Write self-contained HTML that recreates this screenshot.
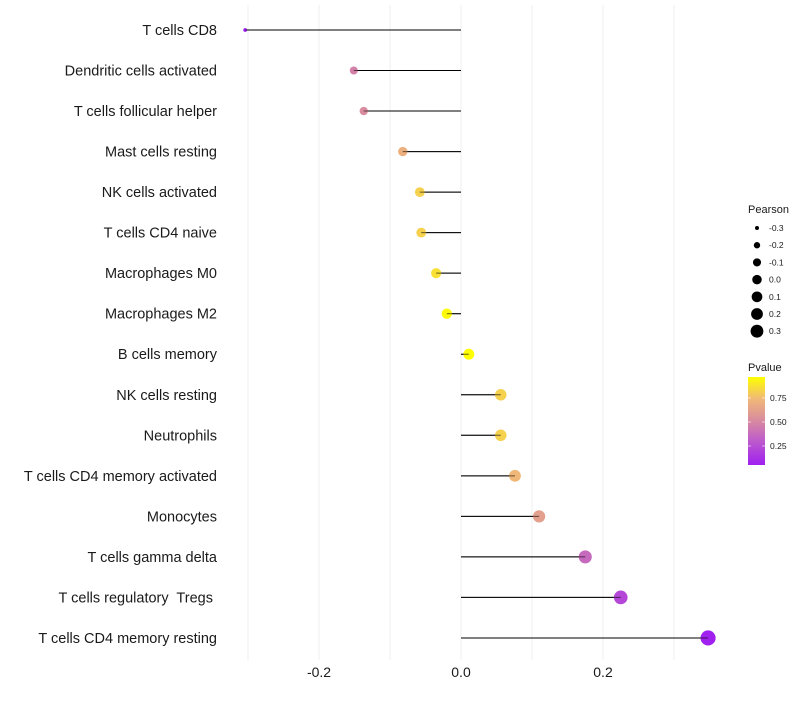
<!DOCTYPE html>
<html><head><meta charset="utf-8"><style>
body{margin:0;background:#fff;font-family:"Liberation Sans",sans-serif;}
text{white-space:pre;}
</style></head><body>
<svg id="c" width="800" height="700" xmlns="http://www.w3.org/2000/svg">
<defs><linearGradient id="pg" x1="0" y1="1" x2="0" y2="0">
<stop offset="0" stop-color="#A020F0"/><stop offset="0.3" stop-color="#C060C8"/><stop offset="0.5" stop-color="#D88AA0"/><stop offset="0.75" stop-color="#F0B878"/><stop offset="1" stop-color="#FFFF00"/>
</linearGradient></defs>
<g id="grid"></g><g id="marks"></g><g id="labels"></g><g id="legend"></g>
</svg>
<script>
const categories=["T cells CD8","Dendritic cells activated","T cells follicular helper","Mast cells resting","NK cells activated","T cells CD4 naive","Macrophages M0","Macrophages M2","B cells memory","NK cells resting","Neutrophils","T cells CD4 memory activated","Monocytes","T cells gamma delta","T cells regulatory  Tregs ","T cells CD4 memory resting"];
const pearson=[-0.304,-0.151,-0.137,-0.082,-0.058,-0.056,-0.035,-0.020,0.011,0.056,0.056,0.076,0.110,0.175,0.225,0.348];
const pvalue=[0.03,0.45,0.5,0.68,0.8,0.8,0.85,0.93,0.95,0.8,0.8,0.72,0.6,0.35,0.2,0.03];
const xTicks=[-0.2,0,0.2];
const xTickLabels=["-0.2","0.0","0.2"];
const sizeBreaks=[-0.3,-0.2,-0.1,0.0,0.1,0.2,0.3];
const pBreaks=[0.25,0.5,0.75];

const NS="http://www.w3.org/2000/svg";
const x=v=>461+v*710;
const y=i=>30+i*40.53;
const r=v=>Math.sqrt(Math.max(4+61.7*(v+0.3),1));
const rd=v=>Math.sqrt(Math.max(4+82*(v+0.3),1));
const stops=[[0,[160,32,240]],[0.3,[192,96,200]],[0.5,[216,138,160]],[0.75,[240,184,120]],[1,[255,255,0]]];
function col(p){const t=Math.max(0,Math.min(1,(p-0.03)/0.92));for(let k=1;k<stops.length;k++){if(t<=stops[k][0]){const a=stops[k-1],b=stops[k],f=(t-a[0])/(b[0]-a[0]);return `rgb(${a[1].map((c,j)=>Math.round(c+(b[1][j]-c)*f)).join(',')})`;}}return "rgb(255,255,0)";}
function mk(tag,attrs,parent,text){const e=document.createElementNS(NS,tag);for(const k in attrs)e.setAttribute(k,attrs[k]);if(text!==undefined)e.textContent=text;document.getElementById(parent).appendChild(e);return e;}

for(let v=-0.3;v<=0.31;v+=0.1){const g=mk('line',{x1:x(v),x2:x(v),y1:5,y2:660,stroke:'#ebebeb','stroke-width':0.8},'grid');}
xTicks.forEach((t,i)=>{const e=mk('text',{x:x(t),y:677,'text-anchor':'middle','font-size':14,fill:'#1a1a1a'},'labels',xTickLabels[i]);});
categories.forEach((c,i)=>{
 const l=mk('text',{x:217,y:y(i)+5,'text-anchor':'end','font-size':14.5,fill:'#1a1a1a'},'labels',c);
 
 const s=mk('line',{x1:x(0),x2:x(pearson[i]),y1:y(i),y2:y(i),stroke:'#000','stroke-width':1},'marks');
 
 const d=mk('circle',{cx:x(pearson[i]),cy:y(i),r:rd(pearson[i]),fill:col(pvalue[i])},'marks');
 
 const s2=mk('line',{x1:x(0),x2:x(pearson[i]),y1:y(i),y2:y(i),stroke:'#000','stroke-width':1,'stroke-opacity':0.6},'marks');
 
});
let t=mk('text',{x:748,y:213,'font-size':11,fill:'#1a1a1a'},'legend','Pearson');
sizeBreaks.forEach((b,i)=>{const cy=228+i*17.2;
 const c=mk('circle',{cx:757,cy:cy,r:r(b),fill:'#000'},'legend');
 const l=mk('text',{x:769,y:cy+3,'font-size':8.5,fill:'#1a1a1a'},'legend',b.toFixed(1));});
t=mk('text',{x:748,y:371,'font-size':11,fill:'#1a1a1a'},'legend','Pvalue');
t=mk('rect',{x:748,y:377,width:17,height:88,fill:'url(#pg)'},'legend');
const py=p=>470-p*96;
pBreaks.forEach(b=>{
 const l=mk('text',{x:770,y:py(b)+3,'font-size':8.5,fill:'#1a1a1a'},'legend',b.toFixed(2));
 const k=mk('line',{x1:748,x2:751,y1:py(b),y2:py(b),stroke:'#fff','stroke-width':0.6},'legend');
 const k2=mk('line',{x1:762,x2:765,y1:py(b),y2:py(b),stroke:'#fff','stroke-width':0.6},'legend');
});
</script>
</body></html>
